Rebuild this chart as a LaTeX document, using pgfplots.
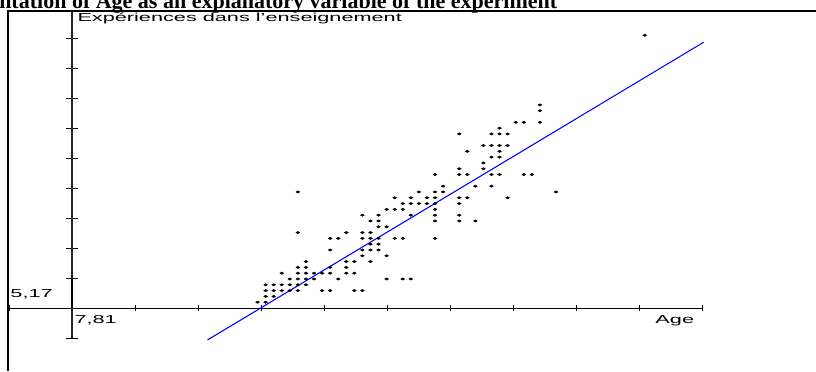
\documentclass[border=0pt]{standalone}
\usepackage{pgfplots}
\pgfplotsset{compat=1.18}
\usepackage{fontspec}
\setmainfont{Liberation Sans}
\newfontfamily\titlefont{Liberation Serif}
\begin{document}
\begin{tikzpicture}
\begin{axis}[
  x=6.05pt, y=4.352pt,
  axis lines=middle,
  every inner x axis line/.append style={-},
  every inner y axis line/.append style={-},
  x axis line style={-, black, line width=0.75pt},
  y axis line style={-, black!85, line width=1.1pt},
  xmin=-7.934, xmax=78.1, ymin=-5.17, ymax=51.2,
  xtick={-7.81,0,7.81,15.62,23.43,31.24,39.05,46.86,54.67,62.48,70.29,78.1},
  ytick={-5.17,0,5.17,10.34,15.51,20.68,25.85,31.02,36.19,41.36,46.53,51.2},
  xticklabels={}, yticklabels={},
  tick align=center,
  major tick length=9pt,
  xtick style={black, line width=0.75pt, /pgfplots/major tick length=5pt},
  ytick style={black, line width=0.75pt},
  clip=false,
]
\addplot[only marks, mark=*, mark size=0.85pt,
  mark options={xscale=1.6, fill=black, draw=none}] table {
x y
23 1
24 1
24 2
25 2
24 3
25 3
26 3
27 3
28 3
31 3
32 3
35 3
36 3
24 4
25 4
26 4
27 4
28 4
29 4
27 5
28 5
29 5
30 5
33 5
39 5
41 5
42 5
26 6
28 6
29 6
30 6
31 6
32 6
34 6
35 6
28 7
29 7
32 7
34 7
29 8
34 8
35 8
37 8
36 9
39 9
32 10
36 10
37 10
38 10
37 11
38 11
32 12
33 12
36 12
37 12
38 12
40 12
41 12
45 12
28 13
34 13
36 13
37 13
38 14
39 14
37 15
38 15
45 15
48 15
50 15
36 16
38 16
42 16
45 16
48 16
39 17
40 17
41 17
45 17
41 18
42 18
43 18
44 18
45 18
48 18
40 19
42 19
44 19
45 19
48 19
49 19
54 19
28 20
43 20
45 20
46 20
60 20
46 21
50 21
52 21
45 23
48 23
49 23
52 23
53 23
56 23
57 23
48 24
51 24
51 25
52 26
53 26
49 27
53 27
51 28
52 28
53 28
54 28
48 30
52 30
53 30
54 30
53 31
55 32
56 32
58 32
58 34
58 35
71 47
};
\addplot[blue, line width=0.8pt] coordinates {(16.8,-5.5) (78.3,45.8)};
% heavier unit segment on the vertical axis
\draw[black, line width=2.2pt] (axis cs:0,0) -- (axis cs:0,5.17);
% frame
\draw[black, line width=1.5pt] (axis cs:-7.934,-10.857) -- (axis cs:-7.934,51.1) -- (axis cs:92.23,51.1);
% texts
\node[anchor=base west, xscale=1.87, inner sep=0pt, font=\fontsize{8.7pt}{10pt}\selectfont]
  at (axis cs:0.62,49.4) {Expériences dans l'enseignement};
\node[anchor=base west, xscale=1.87, inner sep=0pt, font=\fontsize{8.7pt}{10pt}\selectfont]
  at (axis cs:0.25,-2.585) {7,81};
\node[anchor=base west, xscale=1.87, inner sep=0pt, font=\fontsize{8.7pt}{10pt}\selectfont]
  at (axis cs:-7.69,1.896) {5,17};
\node[anchor=base west, xscale=1.87, inner sep=0pt, font=\fontsize{8.7pt}{10pt}\selectfont]
  at (axis cs:72.27,-2.585) {Age};
\node[anchor=base west, inner sep=0pt, font=\titlefont\bfseries\fontsize{16.5pt}{18pt}\selectfont]
  at (axis cs:-9.05,51.7) {ntation of Age as an explanatory variable of the experiment};
\coordinate (BL) at (axis cs:-8.926,-10.857);
\coordinate (TR) at (axis cs:92.23,53.08);
\end{axis}
\pgfresetboundingbox
\path[use as bounding box] (BL) rectangle (TR);
\end{tikzpicture}
\end{document}
